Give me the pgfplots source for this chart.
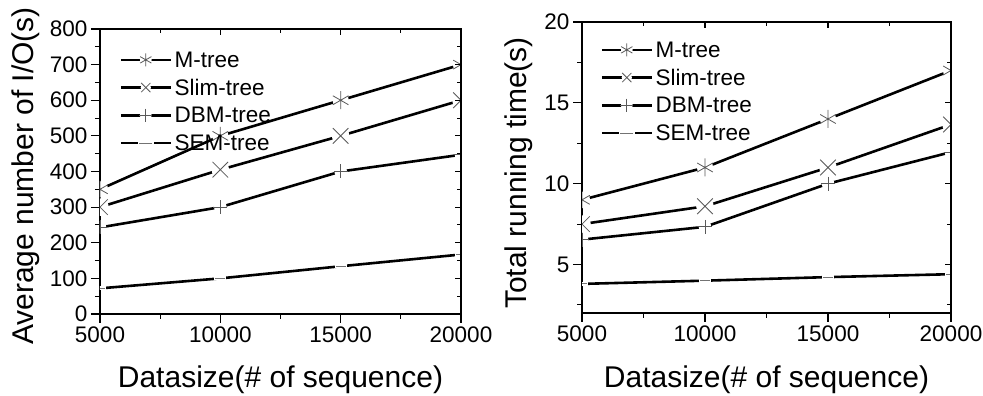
\documentclass[border=0pt]{standalone}
\usepackage{pgfplots}
\pgfplotsset{compat=1.18}
\usepackage{fontspec}
\setmainfont{Liberation Sans}
\newcommand{\tickfont}{\fontsize{22.5}{26}\selectfont}

\pgfdeclareplotmark{gstar}{%
  \pgfpathcircle{\pgfpointorigin}{0.9\pgfplotmarksize}%
  \pgfsetfillcolor{white}\pgfusepathqfill
  \pgfuseplotmark{asterisk}}
\pgfdeclareplotmark{gx}{%
  \pgfpathcircle{\pgfpointorigin}{0.8\pgfplotmarksize}%
  \pgfsetfillcolor{white}\pgfusepathqfill
  \pgfuseplotmark{x}}
\pgfdeclareplotmark{gplus}{%
  \pgfpathcircle{\pgfpointorigin}{0.9\pgfplotmarksize}%
  \pgfsetfillcolor{white}\pgfusepathqfill
  \pgfuseplotmark{+}}
\pgfdeclareplotmark{gdash}{%
  \pgfpathrectangle{\pgfpoint{-1.2\pgfplotmarksize}{-2pt}}{\pgfpoint{2.4\pgfplotmarksize}{4pt}}%
  \pgfsetfillcolor{white}\pgfusepathqfill
  \pgfuseplotmark{-}}

\pgfplotsset{
  common/.style={
    scale only axis,
    anchor=south west,
    xmin=5000, xmax=20000,
    xtick={5000,10000,15000,20000},
    xticklabels={\tickfont 5000,\tickfont 10000,\tickfont 15000,\tickfont 20000},
    minor x tick num=1,
    scaled ticks=false,
    axis line style={line width=1.3pt},
    every tick/.style={black, line width=1.1pt},
    tick pos=left,
    tick align=outside,
    major tick length=9pt,
    minor tick length=5pt,
    clip marker paths=true,
    legend cell align=left,
    legend style={draw=none, fill=none, inner sep=0pt, outer sep=0pt,
      anchor=north west,
      font=\fontsize{22.5}{26}\selectfont,
      nodes={text height=15pt, text depth=0pt, inner ysep=6.35pt, inner xsep=2.5pt}},
    legend image code/.code={%
      \draw[line width=2.6pt, mark repeat=2, mark phase=2, mark size=6.5pt]
        plot coordinates {(0pt,0pt) (25pt,0pt) (50pt,0pt)};},
    every axis plot/.append style={black, line width=2.6pt},
  },
  mirror/.style={
    scale only axis,
    anchor=south west,
    xmin=5000, xmax=20000,
    xtick={5000,10000,15000,20000},
    minor x tick num=1,
    scaled ticks=false,
    axis x line*=top, axis y line*=right,
    tick align=inside,
    xticklabels={}, yticklabels={},
    axis line style={line width=1.3pt},
    every tick/.style={black, line width=1.1pt},
    major tick length=6pt,
    minor tick length=4pt,
  },
  mstar/.style={mark=gstar, mark size=9pt, mark options={solid, draw=black!65, line width=0.8pt}},
  mx/.style={mark=gx, mark size=11pt, mark options={solid, draw=black!65, line width=0.8pt}},
  mplus/.style={mark=gplus, mark size=7pt, mark options={solid, draw=black!65, line width=0.8pt}},
  mdash/.style={mark=gdash, mark size=5pt, mark options={solid, draw=black!55, line width=0.8pt}},
}

\begin{document}
\begin{tikzpicture}
\useasboundingbox (0pt,0pt) rectangle (983pt,396pt);

% ---------- left chart ----------
\begin{axis}[common,
  at={(100pt,82pt)}, width=361pt, height=285pt,
  ymin=0, ymax=800, ytick={0,100,...,800}, minor y tick num=1,
  yticklabels={\tickfont 0,\tickfont 100,\tickfont 200,\tickfont 300,\tickfont 400,\tickfont 500,\tickfont 600,\tickfont 700,\tickfont 800},
  xlabel={Datasize(\# of sequence)},
  ylabel={Average number of I/O(s)},
  every axis x label/.style={at={([yshift=-74pt]axis description cs:0.5,0)}, anchor=base, font=\fontsize{30}{36}\selectfont},
  every axis y label/.style={at={([xshift=-66.5pt, yshift=-4.5pt]axis description cs:0,0.5)}, anchor=base, rotate=90, font=\fontsize{30}{36}\selectfont},
  legend style={at={([xshift=19.5pt, yshift=-17pt]axis description cs:0,1)}},
]
\addplot[mstar] coordinates {(5000,350) (10000,500) (15000,600) (20000,700)};
\addlegendentry{M-tree}
\addplot[mx] coordinates {(5000,300) (10000,405) (15000,500) (20000,600)};
\addlegendentry{Slim-tree}
\addplot[mplus] coordinates {(5000,243) (10000,300) (15000,400) (20000,447)};
\addlegendentry{DBM-tree}
\addplot[mdash] coordinates {(5000,72) (10000,100) (15000,134) (20000,167)};
\addlegendentry{SEM-tree}
\end{axis}
\begin{axis}[mirror,
  at={(100pt,82pt)}, width=361pt, height=285pt,
  ymin=0, ymax=800, ytick={0,100,...,800}, minor y tick num=1]
\end{axis}

% ---------- right chart ----------
\begin{axis}[common,
  at={(582pt,83pt)}, width=369pt, height=291pt,
  ymin=2, ymax=20, ytick={5,10,15,20}, minor ytick={2.5,7.5,12.5,17.5},
  yticklabels={\tickfont 5,\tickfont 10,\tickfont 15,\tickfont 20},
  xlabel={Datasize(\# of sequence)},
  ylabel={Total running time(s)},
  every axis x label/.style={at={([yshift=-75pt]axis description cs:0.5,0)}, anchor=base, font=\fontsize{30}{36}\selectfont},
  every axis y label/.style={at={([xshift=-55.5pt, yshift=-5.5pt]axis description cs:0,0.5)}, anchor=base, rotate=90, font=\fontsize{30}{36}\selectfont},
  legend style={at={([xshift=18.5pt, yshift=-14pt]axis description cs:0,1)}},
]
\addplot[mstar] coordinates {(5000,9) (10000,11) (15000,14) (20000,17)};
\addlegendentry{M-tree}
\addplot[mx] coordinates {(5000,7.5) (10000,8.6) (15000,11) (20000,13.66)};
\addlegendentry{Slim-tree}
\addplot[mplus] coordinates {(5000,6.54) (10000,7.33) (15000,10) (20000,11.95)};
\addlegendentry{DBM-tree}
\addplot[mdash] coordinates {(5000,3.8) (10000,4.0) (15000,4.22) (20000,4.4)};
\addlegendentry{SEM-tree}
\end{axis}
\begin{axis}[mirror,
  at={(582pt,83pt)}, width=369pt, height=291pt,
  ymin=2, ymax=20, ytick={5,10,15,20}, minor ytick={2.5,7.5,12.5,17.5}]
\end{axis}
\end{tikzpicture}
\end{document}
